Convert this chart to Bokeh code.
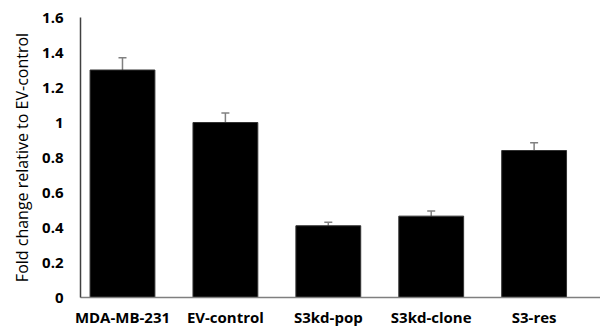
from bokeh.plotting import figure
from bokeh.models import Range1d, FixedTicker, ColumnDataSource, Whisker
from bokeh.embed import file_html
from bokeh.resources import INLINE

categories = ["MDA-MB-231", "EV-control", "S3kd-pop", "S3kd-clone", "S3-res"]
values = [1.30, 1.00, 0.41, 0.465, 0.84]
errors = [0.07, 0.055, 0.02, 0.03, 0.044]
y_ticks = [0, 0.2, 0.4, 0.6, 0.8, 1.0, 1.2, 1.4, 1.6]
y_tick_labels = ["0", "0.2", "0.4", "0.6", "0.8", "1", "1.2", "1.4", "1.6"]

xs = list(range(len(categories)))
src = ColumnDataSource(dict(
    x=xs, top=values,
    upper=[v + e for v, e in zip(values, errors)],
))

p = figure(width=600, height=333, output_backend="svg", toolbar_location=None,
           x_range=Range1d(-0.408, 4.645), y_range=Range1d(0, 1.6),
           min_border_left=80, min_border_right=0, min_border_top=17, min_border_bottom=36)
p.outline_line_color = None
p.grid.visible = False
p.background_fill_color = "white"

p.vbar(x="x", top="top", width=0.63, bottom=0, source=src,
       fill_color="black", line_color="#333333", line_width=1)

w = Whisker(base="x", lower="top", upper="upper", source=src,
            line_color="#808080", line_width=1.5, dimension="height")
w.lower_head = None
w.upper_head.line_color = "#808080"
w.upper_head.line_width = 1.5
w.upper_head.size = 8
p.add_layout(w)

font = "Open Sans"
p.xaxis.ticker = FixedTicker(ticks=xs)
p.xaxis.major_label_overrides = {i: c for i, c in enumerate(categories)}
p.xaxis.major_tick_line_color = None
p.xaxis.major_tick_out = 0
p.xaxis.minor_tick_line_color = None
p.xaxis.axis_line_color = "#7f7f7f"
p.xaxis.axis_line_width = 1.5
p.xaxis.major_label_standoff = 9
p.xaxis.major_label_text_font = font
p.xaxis.major_label_text_font_style = "bold"
p.xaxis.major_label_text_font_size = "15px"
p.xaxis.major_label_text_color = "black"

p.yaxis.ticker = FixedTicker(ticks=y_ticks)
p.yaxis.major_label_overrides = {t: l for t, l in zip(y_ticks, y_tick_labels)}
p.yaxis.major_tick_line_color = None
p.yaxis.major_tick_out = 0
p.yaxis.minor_tick_line_color = None
p.yaxis.axis_line_color = "#404040"
p.yaxis.axis_line_width = 1.5
p.yaxis.major_label_standoff = 17
p.yaxis.major_label_text_font = font
p.yaxis.major_label_text_font_style = "bold"
p.yaxis.major_label_text_font_size = "15px"
p.yaxis.major_label_text_color = "black"
p.yaxis.axis_label = "Fold change relative to EV-control"
p.yaxis.axis_label_text_font = font
p.yaxis.axis_label_text_font_style = "normal"
p.yaxis.axis_label_text_font_size = "16px"
p.yaxis.axis_label_text_color = "black"
p.yaxis.axis_label_standoff = 6

open("out.html", "w").write(file_html(p, INLINE))
